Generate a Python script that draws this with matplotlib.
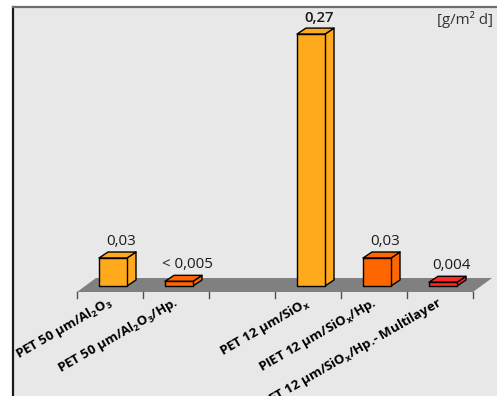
import matplotlib.pyplot as plt
from matplotlib.patches import Polygon, Rectangle

plt.rcParams['font.family'] = ['Open Sans', 'DejaVu Sans']
plt.rcParams['mathtext.fontset'] = 'custom'
plt.rcParams['mathtext.rm'] = 'Open Sans'
plt.rcParams['mathtext.bf'] = 'Open Sans:bold'

# Daten (Permeationsrate)
kategorien = ['PET 50 µm/Al$_\\mathbf{2}$O$_\\mathbf{3}$',
              'PET 50 µm/Al$_\\mathbf{2}$O$_\\mathbf{3}$/Hp.',
              '',
              'PET 12 µm/SiO$_\\mathbf{x}$',
              'PIET 12 µm/SiO$_\\mathbf{x}$/Hp.',
              'PET 12 µm/SiO$_\\mathbf{x}$/Hp.- Multilayer']
werte = [0.03, 0.005, None, 0.27, 0.03, 0.004]
beschriftung = ['0,03', '< 0,005', '', '0,27', '0,03', '0,004']
farben = ['#FFA91C', '#FF6600', None, '#FFA91C', '#FF6600', '#FF2626']
einheit = '[g/m² d]'

W, H = 497, 396
fig = plt.figure(figsize=(W / 100, H / 100), dpi=100)
ax = fig.add_axes([0, 0, 1, 1])
ax.set_axis_off()

# Pixelmassstab: Abstand der Kategorien und Hoehe pro Einheit
px_x = 66.0
px_y = 933.0
ax.set_xlim(-113 / px_x, (W - 113) / px_x)
ax.set_ylim(-(H - 286) / px_y, 286 / px_y)

# Hintergrund mit Rahmen
ax.add_patch(Rectangle((13 / W, 0), 1, 1 - 7 / H, transform=ax.transAxes,
                       facecolor='#E8E8E8', edgecolor='none', zorder=0))
ax.plot([13 / W, 13 / W], [0, 1 - 7 / H], transform=ax.transAxes,
        color='#1A1A1A', lw=1.6, zorder=1)
ax.plot([13 / W, 1], [1 - 7 / H, 1 - 7 / H], transform=ax.transAxes,
        color='#6E6E6E', lw=1.6, zorder=1)

# Boden (3D)
n = len(kategorien)
tiefe_x, tiefe_y = 19 / px_x, 14 / px_y
boden_y = -6 / px_y
links = -0.5 - 3 / px_x
rechts = links + n
ax.add_patch(Polygon([(links, boden_y), (rechts, boden_y),
                      (rechts + tiefe_x, boden_y + tiefe_y),
                      (links + tiefe_x, boden_y + tiefe_y)],
                     closed=True, facecolor='#808080', edgecolor='none', zorder=2))
for k in range(n + 1):
    ax.plot([links + k, links + k], [boden_y, boden_y - 6 / px_y],
            color='#505050', lw=1, zorder=2)

# Saeulen
bw = 14 / px_x
dx, dy = 9 / px_x, 6 / px_y
for i, (v, c) in enumerate(zip(werte, farben)):
    if v is None:
        continue
    x0, x1 = i - bw, i + bw
    seite = [(x1, 0), (x1 + dx, dy), (x1 + dx, v + dy), (x1, v)]
    oben = [(x0, v), (x1, v), (x1 + dx, v + dy), (x0 + dx, v + dy)]
    vorne = [(x0, 0), (x1, 0), (x1, v), (x0, v)]
    for poly in (seite, oben, vorne):
        ax.add_patch(Polygon(poly, closed=True, facecolor=c, edgecolor='black',
                             lw=1, joinstyle='round', zorder=3))
    ax.text(i + 8 / px_x, v + 9 / px_y, beschriftung[i], ha='center', va='bottom',
            fontsize=10.8, color='#1A1A1A',
            fontweight='semibold' if v > 0.1 else 'normal', zorder=4)

# Kategorienbeschriftung, schraeg
for i, lab in enumerate(kategorien):
    if not lab:
        continue
    ax.text(i - 6 / px_x, -8 / px_y, lab, ha='right', va='top', rotation=30,
            rotation_mode='anchor', fontsize=9.5, fontweight='bold', color='black',
            zorder=4)

ax.text(493 / W, 1 - 11 / H, einheit, transform=ax.transAxes, ha='right', va='top',
        fontsize=10.8, color='#333333', zorder=4)

fig.savefig('out.png', dpi=100, facecolor='white')
